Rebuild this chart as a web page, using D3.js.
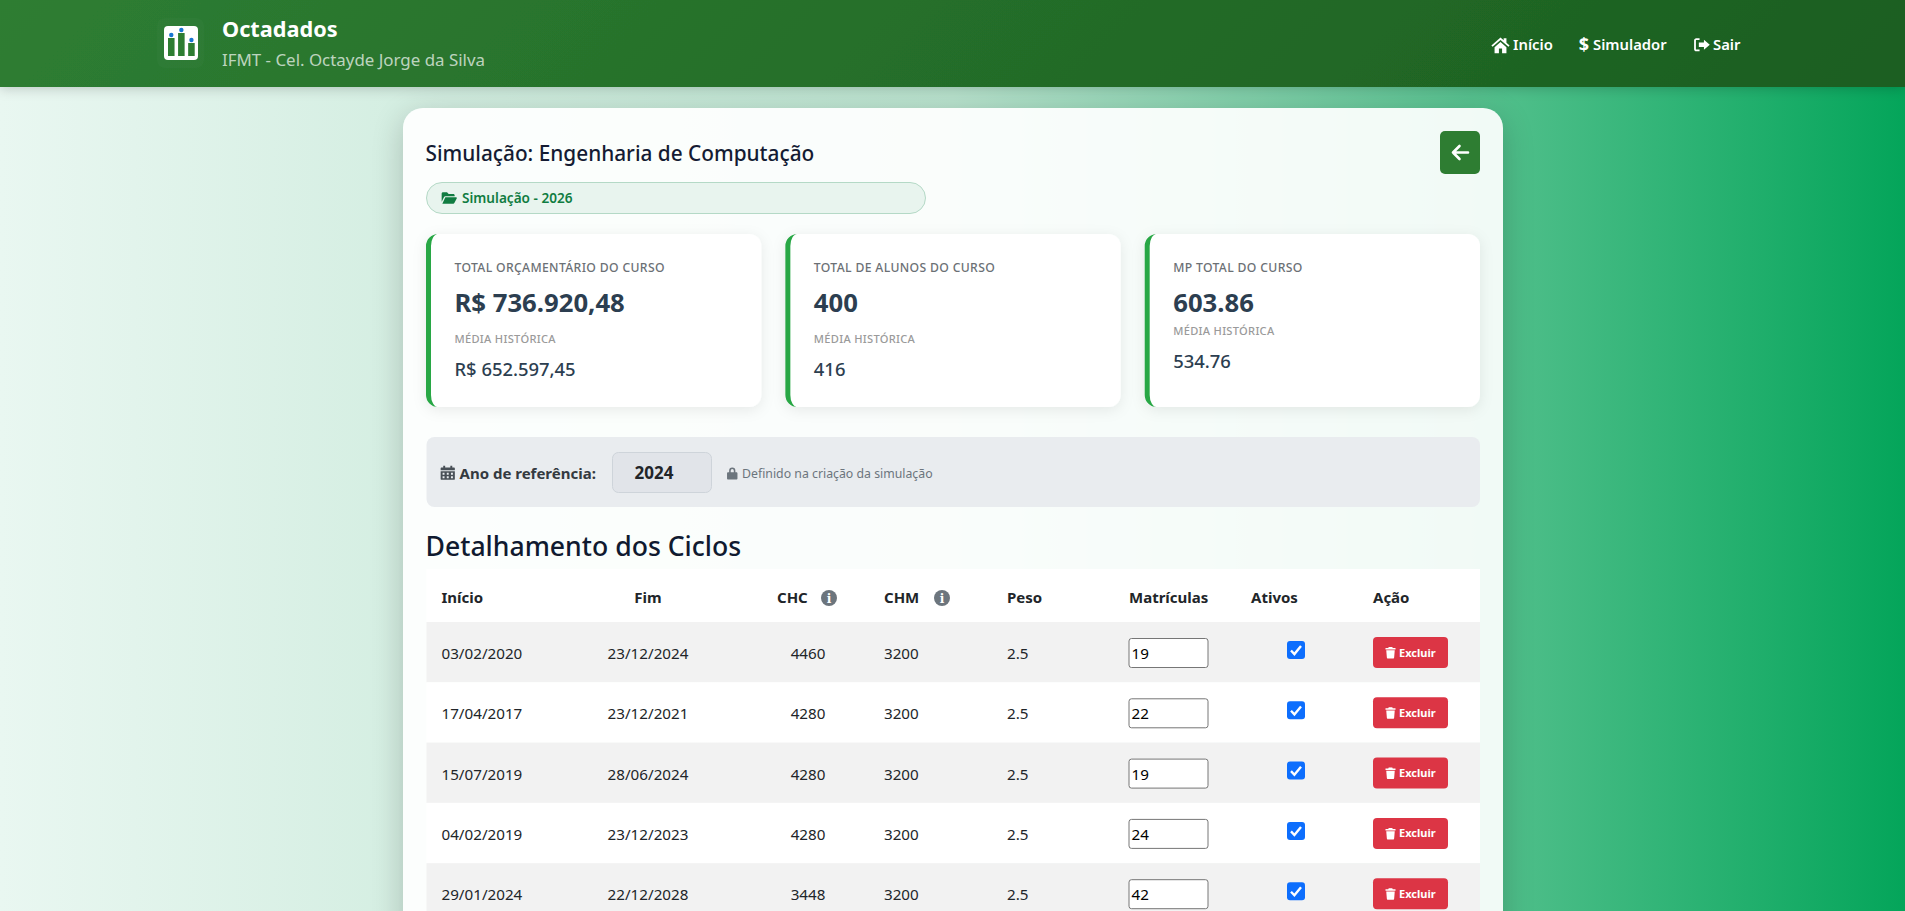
<!DOCTYPE html>
<html lang="pt-BR">
<head>
<meta charset="utf-8">
<title>Octadados</title>
<script src="https://cdn.jsdelivr.net/npm/d3@7"></script>
<style>
    html, body { margin: 0; width: 1905px; height: 911px; overflow: hidden; }
    body { background: linear-gradient(90deg, #e9f7f1 0%, #b8e2cd 50%, #04a55a 100%); position: relative; }
    #card {
        position: absolute; left: 402.5px; top: 108px; width: 1100px; height: 900px;
        background: rgba(255,255,255,.92); border-radius: 20px;
        box-shadow: 0 8px 32px rgba(0,0,0,.2);
    }
    svg { position: absolute; left: 0; top: 0; font-family: "Noto Sans", sans-serif; }
</style>
</head>
<body>
<div id="card"></div>
<div id="canvas"></div>
<script>
"use strict"
// summary cards
const cardTitulos = ["TOTAL ORÇAMENTÁRIO DO CURSO", "TOTAL DE ALUNOS DO CURSO", "MP TOTAL DO CURSO"];
const cardValores = ["R$ 736.920,48", "400", "603.86"];
const cardMedias = ["R$ 652.597,45", "416", "534.76"];

// table
const colunas = ["Início", "Fim", "CHC", "CHM", "Peso", "Matrículas", "Ativos", "Ação"];
const cicloInicio = ["03/02/2020", "17/04/2017", "15/07/2019", "04/02/2019", "29/01/2024"];
const cicloFim = ["23/12/2024", "23/12/2021", "28/06/2024", "23/12/2023", "22/12/2028"];
const cicloCHC = [4460, 4280, 4280, 4280, 3448];
const cicloCHM = [3200, 3200, 3200, 3200, 3200];
const cicloPeso = [2.5, 2.5, 2.5, 2.5, 2.5];
const cicloMatriculas = [19, 22, 19, 24, 42];
const cicloAtivos = [true, true, true, true, true];

// nav
const navItens = ["Início", "Simulador", "Sair"];

const width = 1905;
const height = 911;

let svg = d3.select("#canvas").append("svg")
    .attr("width", width)
    .attr("height", height);

let defs = svg.append("defs");

// same geometry as a css 135deg gradient on the header
let headerGrad = defs.append("linearGradient")
    .attr("id", "headerGrad")
    .attr("gradientUnits", "userSpaceOnUse")
    .attr("x1", 455).attr("y1", -454)
    .attr("x2", 1450).attr("y2", 541);
headerGrad.append("stop").attr("offset", "0%").attr("stop-color", "#2e7d32");
headerGrad.append("stop").attr("offset", "100%").attr("stop-color", "#1b5e20");

function shadow(id, dy, blur, alpha) {
    let f = defs.append("filter").attr("id", id)
        .attr("x", "-10%").attr("y", "-30%").attr("width", "120%").attr("height", "170%");
    f.append("feDropShadow")
        .attr("dx", 0).attr("dy", dy)
        .attr("stdDeviation", blur)
        .attr("flood-color", "#000")
        .attr("flood-opacity", alpha);
}
shadow("headerShadow", 2, 6, .18);
shadow("boxShadow", 3, 7, .08);

// text helper
function label(g, txt, x, y, size, weight, color, anchor, spacing) {
    return g.append("text")
        .attr("x", x).attr("y", y)
        .attr("font-size", size)
        .attr("font-weight", weight)
        .attr("fill", color)
        .attr("text-anchor", anchor || "start")
        .attr("letter-spacing", spacing || 0)
        .text(txt);
}

// icons (24x24 box)
const icons = {
    home: "M12 2.5 0.5 12.6 2 14.3 12 5.6 22 14.3 23.5 12.6 19.5 9V3.5H16V6ZM4.5 14.8V22.5H10V16.5H14V22.5H19.5V14.8L12 8.2Z",
    signout: "M9 3H4.5C2.8 3 1.5 4.3 1.5 6V18C1.5 19.7 2.8 21 4.5 21H9V18.5H4.5C4.2 18.5 4 18.3 4 18V6C4 5.7 4.2 5.5 4.5 5.5H9ZM15 5 23 12 15 19V15H8V9H15Z",
    folder: "M1 5.5C1 4.4 1.9 3.5 3 3.5H9L11.5 6H18.5C19.6 6 20.5 6.9 20.5 8V9.5H6.5C5.6 9.5 4.8 10 4.4 10.8L1 17.5ZM6.5 11H22.5C23.4 11 24 12 23.6 12.8L20 19.6C19.7 20.2 19 20.5 18.5 20.5H2Z",
    calendar: "M5 1H8V4H16V1H19V4H21.5C22.3 4 23 4.7 23 5.5V8H1V5.5C1 4.7 1.7 4 2.5 4H5ZM1 9.5H23V21.5C23 22.3 22.3 23 21.5 23H2.5C1.7 23 1 22.3 1 21.5ZM4 12V15H7V12ZM10.5 12V15H13.5V12ZM17 12V15H20V12ZM4 17.5V20.5H7V17.5ZM10.5 17.5V20.5H13.5V17.5ZM17 17.5V20.5H20V17.5Z",
    lock: "M6 10V7A6 6 0 0 1 18 7V10H20C21 10 22 11 22 12V22C22 23 21 24 20 24H4C3 24 2 23 2 22V12C2 11 3 10 4 10ZM9 10H15V7A3 3 0 0 0 9 7Z",
    trash: "M8.5 1H15.5L16.5 3H22V6H2V3H7.5ZM3.5 7.5H20.5L19.3 22C19.2 23 18.5 24 17.3 24H6.7C5.5 24 4.8 23 4.7 22Z"
};
function icon(g, name, x, y, size, color) {
    g.append("path")
        .attr("d", icons[name])
        .attr("transform", "translate(" + x + "," + y + ") scale(" + size / 24 + ")")
        .attr("fill", color)
        .attr("fill-rule", "evenodd");
}

drawHeader();
drawTop();
drawCards();
drawYear();
drawTable();

function drawHeader() {
    let g = svg.append("g");
    g.append("rect")
        .attr("width", width).attr("height", 87)
        .attr("fill", "url(#headerGrad)")
        .attr("filter", "url(#headerShadow)");

    // logo: three bars with a dot on top, heights from a band scale
    let logoX = d3.scaleBand().domain([0, 1, 2]).range([168, 194.7]).paddingInner(.35);
    let logoH = [18, 23, 13];
    g.append("rect").attr("x", 157).attr("y", 18).attr("width", 47).attr("height", 50).attr("rx", 8)
        .attr("fill", "#fff").attr("fill-opacity", .02);
    g.append("rect").attr("x", 164).attr("y", 26).attr("width", 34).attr("height", 34).attr("rx", 4)
        .attr("fill", "#fff");
    logoX.domain().forEach(function(i) {
        g.append("rect")
            .attr("x", logoX(i)).attr("y", 56 - logoH[i])
            .attr("width", logoX.bandwidth()).attr("height", logoH[i])
            .attr("fill", "#2e7d32");
        g.append("circle")
            .attr("cx", logoX(i) + logoX.bandwidth() / 2).attr("cy", 56 - logoH[i] - 3)
            .attr("r", 2.2)
            .attr("fill", "#1976d2");
    });

    label(g, "Octadados", 222, 37, 21.7, 700, "#fff");
    label(g, "IFMT - Cel. Octayde Jorge da Silva", 222, 66, 16.9, 400, "rgba(255,255,255,.7)");

    // nav
    let navX = d3.scaleOrdinal().domain(navItens).range([1513, 1593, 1713]);
    navItens.forEach(function(d) {
        label(g, d, navX(d), 50, 14.8, 600, "#fff");
    });
    icon(g, "home", 1491, 35.5, 19, "#fff");
    label(g, "$", 1584, 51, 18, 700, "#fff", "middle");
    icon(g, "signout", 1693, 36, 17.5, "#fff");
}

function drawTop() {
    let g = svg.append("g");
    label(g, "Simulação: Engenharia de Computação", 425.5, 161, 20.8, 500, "#141b33");

    // back button
    g.append("rect").attr("x", 1440).attr("y", 131).attr("width", 40).attr("height", 43).attr("rx", 5)
        .attr("fill", "#2e7d32");
    g.append("path")
        .attr("d", "M1468 152.5H1453M1459.5 146 1453 152.5 1459.5 159")
        .attr("fill", "none").attr("stroke", "#fff").attr("stroke-width", 2.6)
        .attr("stroke-linecap", "round").attr("stroke-linejoin", "round");

    // pill
    g.append("rect").attr("x", 426.5).attr("y", 182.5).attr("width", 499).attr("height", 31).attr("rx", 15.5)
        .attr("fill", "#e8f4ee").attr("stroke", "#b4d9c6");
    icon(g, "folder", 441, 190, 16, "#107c41");
    label(g, "Simulação - 2026", 462, 202.5, 13.6, 600, "#107c41");
}

function drawCards() {
    let cardX = d3.scaleBand().domain(cardTitulos).range([426, 1480]).paddingInner(.0669);
    let y = 234, h = 173, r = 12, w = cardX.bandwidth();

    cardTitulos.forEach(function(titulo, i) {
        let x = cardX(titulo);
        let g = svg.append("g");
        g.append("rect").attr("x", x).attr("y", y).attr("width", w).attr("height", h).attr("rx", r)
            .attr("fill", "#fff").attr("filter", "url(#boxShadow)");
        // green left border that tapers into the corners
        g.append("path")
            .attr("fill", "#28a745")
            .attr("d", "M" + (x + r) + " " + y
                + "A" + r + " " + r + " 0 0 0 " + x + " " + (y + r)
                + "V" + (y + h - r)
                + "A" + r + " " + r + " 0 0 0 " + (x + r) + " " + (y + h)
                + "A7 " + r + " 0 0 1 " + (x + 5) + " " + (y + h - r)
                + "V" + (y + r)
                + "A7 " + r + " 0 0 1 " + (x + r) + " " + y + "Z");

        // last card has no gap under the big number
        let shift = i == 2 ? -8.5 : 0;
        let tx = x + 28.5;
        label(g, titulo, tx, 271.5, 12.2, 500, "#6b7075", "start", .35);
        label(g, cardValores[i], tx, 311.5, 25.7, 700, "#2c3e50");
        label(g, "MÉDIA HISTÓRICA", tx, 343 + shift, 11.1, 500, "#9a9a9a", "start", .3);
        label(g, cardMedias[i], tx, 375.5 + (i == 2 ? -7.5 : 0), 18.4, 500, "#2c3e50");
    });
}

function drawYear() {
    let g = svg.append("g");
    g.append("rect").attr("x", 426.5).attr("y", 437).attr("width", 1053.5).attr("height", 70).attr("rx", 8)
        .attr("fill", "#e9ecef");
    icon(g, "calendar", 440, 465, 15.5, "#495057");
    label(g, "Ano de referência:", 459.5, 479, 15, 700, "#343a40");
    g.append("rect").attr("x", 612.5).attr("y", 452.5).attr("width", 99).attr("height", 40).attr("rx", 6)
        .attr("fill", "#e1e4e9").attr("stroke", "#ced4da");
    label(g, "2024", 654, 479, 17, 700, "#212529", "middle");
    icon(g, "lock", 726, 467, 12.5, "#6c757d");
    label(g, "Definido na criação da simulação", 742, 478, 12.3, 400, "#6c757d");
}

function drawTable() {
    let g = svg.append("g");
    label(g, "Detalhamento dos Ciclos", 425.5, 556, 26.6, 500, "#101a30");

    let rowY = d3.scaleBand().domain(d3.range(cicloInicio.length)).range([622, 923.5]);
    let colX = d3.scaleOrdinal().domain(colunas).range([441.5, 607, 777, 884, 1007, 1129, 1251, 1373]);
    let left = 426.5, tableW = 1053.5;

    // header row
    g.append("rect").attr("x", left).attr("y", 569).attr("width", tableW).attr("height", 53).attr("fill", "#fff");
    colunas.forEach(function(c) {
        if (c == "Fim") label(g, c, 648, 602.5, 15, 700, "#212529", "middle");
        else label(g, c, colX(c), 602.5, 15, 700, "#212529");
    });
    ["CHC", "CHM"].forEach(function(c) {
        let cx = c == "CHC" ? 829 : 942;
        g.append("circle").attr("cx", cx).attr("cy", 598).attr("r", 8).attr("fill", "#6c757d");
        g.append("text").attr("x", cx).attr("y", 602.5)
            .attr("text-anchor", "middle").attr("font-size", 12).attr("font-weight", 700)
            .attr("font-family", "'DejaVu Serif', serif").attr("fill", "#fff").text("i");
    });

    rowY.domain().forEach(function(i) {
        let y = rowY(i), h = rowY.step();
        g.append("rect").attr("x", left).attr("y", y).attr("width", tableW).attr("height", h)
            .attr("fill", i % 2 == 0 ? "#f2f2f2" : "#fff");

        let base = y + 37;
        let color = "#212529";
        label(g, cicloInicio[i], colX("Início"), base, 15.2, 400, color);
        label(g, cicloFim[i], 648, base, 15.2, 400, color, "middle");
        label(g, cicloCHC[i], 808, base, 15.2, 400, color, "middle");
        label(g, cicloCHM[i], colX("CHM"), base, 15.2, 400, color);
        label(g, cicloPeso[i].toFixed(1), colX("Peso"), base, 15.2, 400, color);

        // input
        g.append("rect").attr("x", colX("Matrículas")).attr("y", y + 16.5).attr("width", 79).attr("height", 29).attr("rx", 2.5)
            .attr("fill", "#fff").attr("stroke", "#767676");
        label(g, cicloMatriculas[i], colX("Matrículas") + 2.5, base, 15.2, 400, "#000");

        // checkbox
        if (cicloAtivos[i]) {
            g.append("rect").attr("x", 1287).attr("y", y + 19).attr("width", 18).attr("height", 18).attr("rx", 3)
                .attr("fill", "#0d6efd");
            g.append("path")
                .attr("d", "M1291 " + (y + 28.5) + "l3.4 3.6 6.6-8")
                .attr("fill", "none").attr("stroke", "#fff").attr("stroke-width", 2.4);
        }

        // delete button
        g.append("rect").attr("x", colX("Ação")).attr("y", y + 15).attr("width", 75).attr("height", 31).attr("rx", 4)
            .attr("fill", "#dc3545");
        icon(g, "trash", 1384.5, y + 24.5, 12, "#fff");
        label(g, "Excluir", 1399, y + 34.5, 11, 700, "#fff");
    });
}
</script>
</body>
</html>
